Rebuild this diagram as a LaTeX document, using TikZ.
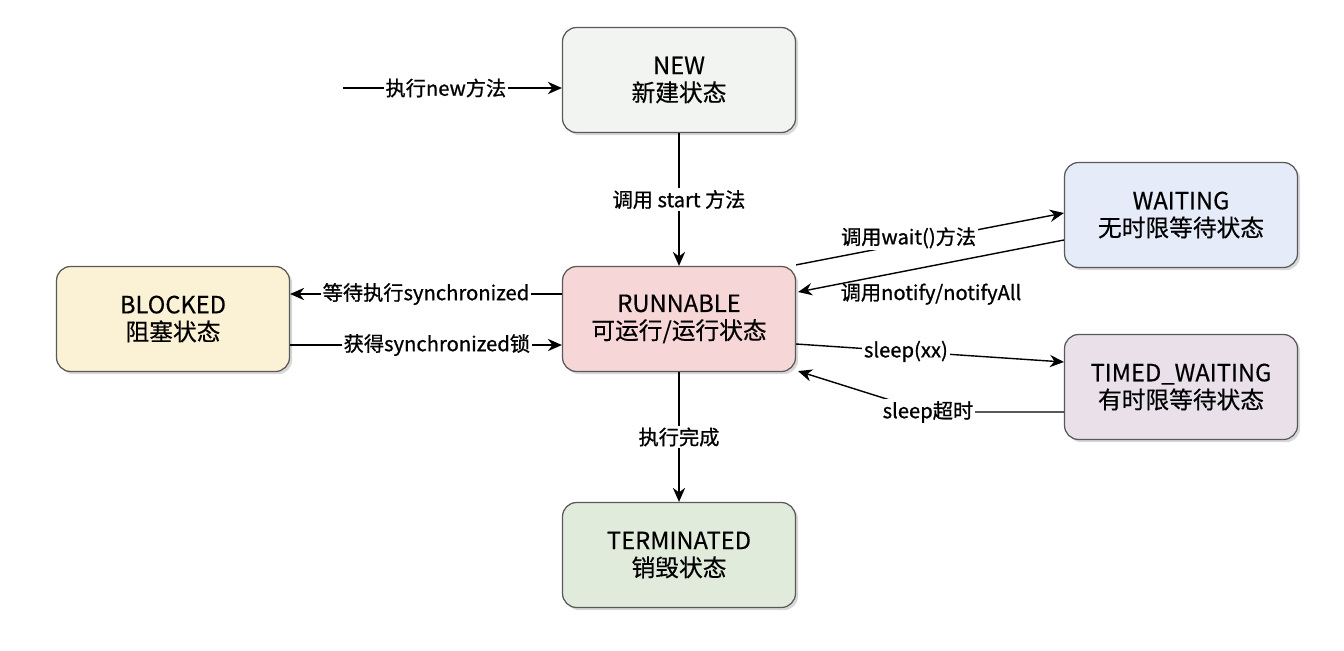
\documentclass[tikz,border=0pt]{standalone}
\usepackage{fontspec}
\setmainfont{Noto Sans CJK SC}
\newfontfamily\statefont[FakeBold=0.4]{Noto Sans CJK SC}
\newfontfamily\edgefont[FakeBold=0.9]{Noto Sans CJK SC}
\usetikzlibrary{arrows.meta,calc,shadows}

\definecolor{newfill}{HTML}{F2F4F1}
\definecolor{runfill}{HTML}{F6D6D6}
\definecolor{blkfill}{HTML}{FBF2D5}
\definecolor{waitfill}{HTML}{E5EBF8}
\definecolor{timefill}{HTML}{E9E0EA}
\definecolor{endfill}{HTML}{E1EBDB}

\tikzset{
  state/.style={draw=black!65, line width=0.7pt, rounded corners=8pt,
    minimum width=4.66cm, minimum height=2.1cm, align=center,
    font=\statefont\fontsize{13.5}{15.5}\selectfont,
    drop shadow={shadow xshift=1.5pt, shadow yshift=-1.5pt, opacity=.3, fill=black!50}},
  arr/.style={-{Stealth[length=8pt,width=7pt]}, line width=0.8pt},
  lbl/.style={fill=white, inner sep=1pt, font=\edgefont\fontsize{11.5}{13}\selectfont},
}

\begin{document}
\begin{tikzpicture}[x=0.02cm, y=-0.02cm]

    \useasboundingbox[fill=white] (0,0) rectangle (1344,650);

    \node[state, fill=newfill]  (N) at (679,80)   {NEW\\新建状态};
    \node[state, fill=runfill]  (R) at (679,319)  {RUNNABLE\\可运行/运行状态};
    \node[state, fill=blkfill]  (B) at (173,319)  {BLOCKED\\阻塞状态};
    \node[state, fill=waitfill] (W) at (1181,215) {WAITING\\无时限等待状态};
    \node[state, fill=timefill] (T) at (1181,387) {TIMED\_WAITING\\有时限等待状态};
    \node[state, fill=endfill]  (X) at (679,555)  {TERMINATED\\销毁状态};

    \coordinate (S) at (343,88);

    % arrows plotted using nodes
    \draw[arr] (S) -- node[lbl, pos=.47] {执行new方法} ($(N.west)+(0,8)$);
    \draw[arr] (N) -- node[lbl] {调用 start 方法} (R);
    \draw[arr] (R) -- node[lbl] {执行完成} (X);

    \draw[arr] ($(R.west)+(0,-25)$) -- node[lbl] {等待执行synchronized} ($(B.east)+(0,-25)$);
    \draw[arr] ($(B.east)+(0,26)$) -- node[lbl, pos=.54] {获得synchronized锁} ($(R.west)+(0,26)$);

    \draw[arr] ($(R.north east)+(0,-1)$) -- node[lbl, pos=.42, yshift=3pt] {调用wait()方法} ($(W.west)+(0,-2)$);
    \draw[arr] ($(W.west)+(0,25)$) -- node[pos=.5, below=0.3cm, lbl, fill=none] {调用notify/notifyAll} ($(R.east)+(2,-27)$);

    \draw[arr] ($(R.east)+(0,25)$) -- node[lbl, pos=.41] {sleep(xx)} ($(T.west)+(0,-25)$);
    \draw[arr] ($(T.west)+(0,25)$) -- ++(-136,0) coordinate (k) -- ($(R.south east)+(2,-1)$);
    \node[lbl] at (k) {sleep超时};

\end{tikzpicture}
\end{document}
